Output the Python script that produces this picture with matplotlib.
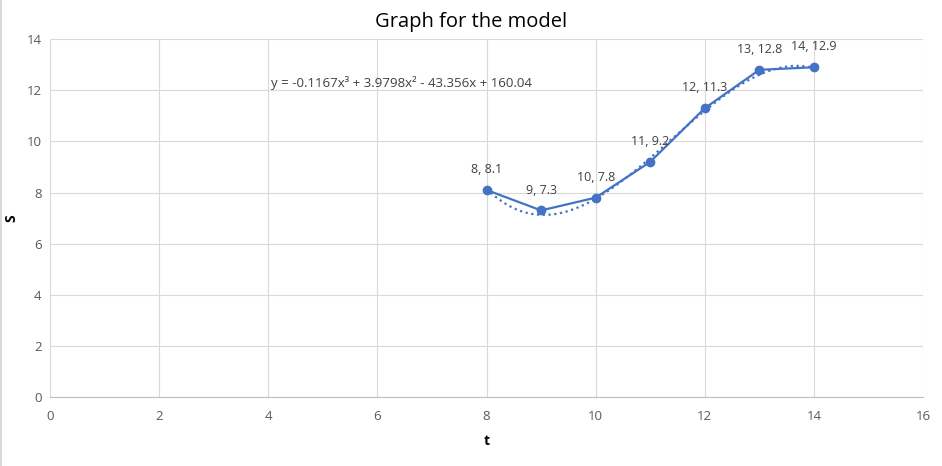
import matplotlib.pyplot as plt
import numpy as np

t_vals = [8, 9, 10, 11, 12, 13, 14]
s_vals = [8.1, 7.3, 7.8, 9.2, 11.3, 12.8, 12.9]
point_labels = ["8, 8.1", "9, 7.3", "10, 7.8", "11, 9.2", "12, 11.3", "13, 12.8", "14, 12.9"]
# trendline coefficients as printed on the chart (cubic, highest power first)
trend_coef = [-0.1167, 3.9798, -43.356, 160.04]
trend_text = "y = -0.1167x³ + 3.9798x² - 43.356x + 160.04"

plt.rcParams["font.family"] = ["Open Sans", "DejaVu Sans"]
line_color = "#4472C4"
text_color = "#404040"

fig = plt.figure(figsize=(9.42, 4.66), dpi=100)
ax = fig.add_axes([0.0531, 0.148, 0.9268, 0.768])

tx = np.linspace(t_vals[0], t_vals[-1], 200)
ax.plot(tx, np.polyval(trend_coef, tx), color=line_color, linestyle=(0, (1, 1.6)),
        linewidth=1.6, zorder=2)
ax.plot(t_vals, s_vals, color=line_color, linewidth=1.6, marker="o", markersize=6, zorder=3)

for x, y, lab in zip(t_vals, s_vals, point_labels):
    ax.annotate(lab, (x, y), xytext=(0, 10), textcoords="offset points",
                ha="center", va="bottom", fontsize=9, color=text_color)

ax.text(4.05, 12.28, trend_text, fontsize=9.5, color=text_color, ha="left", va="center")

ax.set_xlim(0, 16)
ax.set_ylim(0, 14)
ax.set_xticks(range(0, 17, 2))
ax.set_yticks(range(0, 15, 2))
ax.grid(True, color="#d9d9d9", linewidth=0.8)
ax.set_axisbelow(True)
for side in ["top", "right"]:
    ax.spines[side].set_visible(False)
ax.spines["left"].set_visible(False)
ax.spines["bottom"].set_color("#bfbfbf")
ax.tick_params(axis="both", length=0, labelsize=9.5, colors="#595959", pad=6)
ax.tick_params(axis="x", pad=9)

fig.text(0.5, 0.952, "Graph for the model", fontsize=14.5, color="black", ha="center", va="center")
ax.set_xlabel("t", fontsize=10, fontweight="bold", color="black", labelpad=8)
ax.set_ylabel("S", fontsize=10, fontweight="bold", color="black", labelpad=6)

# thin grey border on the left, like the chart frame
fig.add_artist(plt.Line2D([0.001, 0.001], [0, 1], color="#d9d9d9", linewidth=1.5))

fig.savefig("out.png", dpi=100)
